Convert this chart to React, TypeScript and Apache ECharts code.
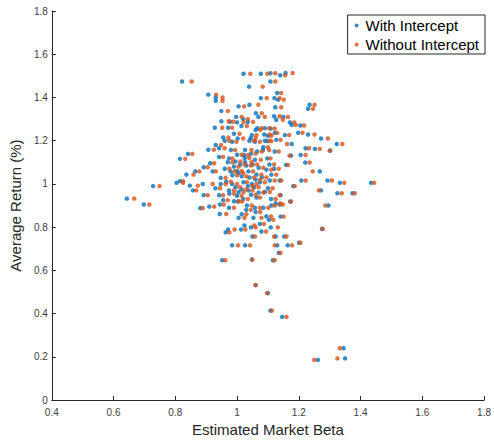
import React, { useEffect, useRef } from "react";
import * as echarts from "echarts";

// Average return (%) for each portfolio
const avgReturn: number[] = [
  1.51, 1.51, 1.512, 1.513, 1.503, 1.474, 1.474, 1.45, 1.421, 1.413, 1.4, 1.385, 1.397, 1.397, 1.39,
  1.366, 1.359, 1.337, 1.355, 1.366, 1.348, 1.327, 1.313, 1.297, 1.31, 1.29, 1.31, 1.31,
  1.288, 1.285, 1.287, 1.285, 1.273, 1.27, 1.26, 1.26, 1.268, 1.258, 1.258, 1.256,
  1.236, 1.226, 1.229, 1.226, 1.237, 1.229, 1.223, 1.232, 1.215, 1.21, 1.212, 1.204, 1.21, 1.185,
  1.185, 1.195, 1.195, 1.18, 1.198, 1.158, 1.165, 1.165, 1.162, 1.154, 1.157, 1.157, 1.157, 1.15,
  1.139, 1.116, 1.134, 1.131, 1.134, 1.125, 1.118, 1.104, 1.101, 1.112, 1.118, 1.096, 1.088, 1.099,
  1.077, 1.058, 1.058, 1.05, 1.058, 1.043, 1.066, 1.043, 1.058, 1.043, 1.058, 1.028,
  1.005, 1.013, 0.992, 1.0, 1.0, 1.0, 1.008, 1.0, 1.008, 1.016, 1.016, 0.99, 1.016, 1.016, 1.005, 1.005, 0.99,
  0.932, 0.97, 0.948, 0.948, 0.97, 0.963, 0.97, 0.937, 0.963, 0.948, 0.97, 0.957, 0.957,
  0.905, 0.888, 0.895, 0.905, 0.89, 0.919, 0.9, 0.89, 0.89, 0.9, 0.905, 0.919, 0.9,
  0.861, 0.843, 0.843, 0.834, 0.849, 0.808, 0.799, 0.815, 0.799, 0.792, 0.789, 0.789, 0.776, 0.78,
  0.757, 0.757, 0.716, 0.716, 0.716, 0.716, 0.728, 0.757, 0.681, 0.647, 0.65, 0.647,
  0.532, 0.495, 0.414, 0.385, 0.24, 0.186, 0.193,
  1.08, 1.09, 1.085, 1.09, 1.075, 1.04, 1.035, 1.03, 1.02, 1.03, 0.985, 0.975, 0.99, 0.985,
  0.955, 0.945, 0.93, 0.95, 0.96, 1.07, 1.01, 1.12, 1.14, 1.15, 1.17, 1.135, 1.1, 1.09, 1.07,
  0.98, 0.93, 0.91, 1.2, 1.25, 1.3, 1.2, 1.2, 0.86, 0.87, 0.85, 0.925, 0.98, 0.92, 0.88, 1.06,
];

// Estimated market beta, regression with intercept
const betaWithIntercept: number[] = [
  1.021, 1.077, 1.108, 1.157, 1.14, 0.822, 1.108, 1.039, 1.13, 0.907, 0.931, 0.931, 1.077, 1.121, 1.133,
  1.04, 1.005, 0.949, 1.124, 1.235, 1.23, 1.061, 1.12, 1.127, 0.997, 0.949, 1.069, 1.15,
  0.977, 1.0, 1.035, 1.171, 1.177, 1.205, 0.928, 0.971, 1.014, 1.066, 1.09, 1.109,
  1.122, 1.048, 1.088, 1.155, 1.198, 1.23, 1.1, 0.99, 0.955, 1.002, 1.044, 1.127, 1.272, 1.323,
  1.177, 1.058, 0.984, 0.931, 1.098, 0.907, 0.942, 1.222, 1.252, 1.302, 0.98, 1.026, 1.084, 1.122,
  0.841, 0.815, 1.206, 1.175, 1.022, 0.942, 0.974, 0.995, 1.026, 1.058, 1.098, 0.913, 1.159, 1.221,
  0.892, 0.865, 0.979, 1.005, 1.037, 1.063, 1.095, 1.111, 1.268, 0.836, 0.921, 0.947,
  0.804, 0.815, 0.847, 0.889, 0.947, 0.984, 1.021, 1.048, 1.074, 1.106, 1.138, 1.182, 1.208, 1.293, 1.333, 1.434, 0.728,
  0.643, 0.857, 0.892, 0.942, 0.974, 1.005, 1.037, 1.063, 1.09, 1.141, 1.272, 1.325, 1.374,
  0.698, 0.881, 0.91, 0.945, 0.974, 1.003, 1.032, 1.058, 1.085, 1.111, 1.138, 1.172, 1.296,
  0.944, 1.005, 1.053, 1.103, 1.141, 1.024, 1.045, 1.074, 1.109, 1.275, 0.971, 1.013, 0.963, 1.079,
  1.05, 1.125, 0.984, 1.026, 1.13, 1.164, 1.201, 1.153, 1.135, 0.952, 1.048, 1.116,
  1.06, 1.1, 1.108, 1.146, 1.345, 1.262, 1.35,
  0.99, 1.01, 1.03, 1.05, 1.07, 0.985, 1.015, 1.04, 1.06, 1.08, 0.995, 1.015, 1.035, 1.055,
  0.975, 1.0, 1.02, 1.045, 1.07, 0.96, 0.965, 1.025, 1.045, 1.065, 1.085, 1.0, 0.97, 1.105, 1.12,
  1.1, 1.11, 1.125, 1.04, 1.06, 1.02, 1.09, 0.96, 1.015, 1.06, 1.095, 0.955, 0.93, 0.99, 1.03, 1.0,
];

// Estimated market beta, regression without intercept
const betaWithoutIntercept: number[] = [
  1.043, 1.098, 1.124, 1.18, 1.156, 0.853, 1.124, 1.083, 1.143, 0.932, 0.953, 0.953, 1.096, 1.138, 1.151,
  1.069, 1.023, 0.97, 1.143, 1.251, 1.246, 1.08, 1.138, 1.148, 1.015, 0.973, 1.09, 1.165,
  0.988, 1.021, 1.052, 1.185, 1.19, 1.217, 0.952, 0.984, 1.032, 1.08, 1.104, 1.122,
  1.13, 1.063, 1.106, 1.169, 1.212, 1.251, 1.111, 1.008, 0.972, 1.02, 1.06, 1.141, 1.294, 1.341,
  1.162, 1.074, 0.998, 0.948, 1.111, 0.925, 0.96, 1.233, 1.268, 1.3, 0.994, 1.047, 1.104, 1.135,
  0.855, 0.832, 1.222, 1.17, 1.036, 0.955, 0.985, 1.011, 1.047, 1.077, 1.108, 0.926, 1.165, 1.235,
  0.905, 0.878, 0.992, 1.02, 1.052, 1.079, 1.111, 1.127, 1.245, 0.859, 0.931, 0.963,
  0.825, 0.825, 0.873, 0.921, 0.963, 1.0, 1.032, 1.063, 1.09, 1.122, 1.143, 1.187, 1.222, 1.307, 1.347, 1.444, 0.749,
  0.667, 0.868, 0.905, 0.955, 0.99, 1.021, 1.05, 1.074, 1.106, 1.138, 1.265, 1.339, 1.381,
  0.716, 0.889, 0.926, 0.957, 0.99, 1.016, 1.048, 1.074, 1.101, 1.122, 1.148, 1.175, 1.286,
  0.965, 1.024, 1.079, 1.117, 1.151, 1.056, 1.06, 1.087, 1.132, 1.278, 0.992, 1.027, 0.975, 1.094,
  1.058, 1.12, 1.003, 1.042, 1.122, 1.178, 1.205, 1.16, 1.141, 0.962, 1.05, 1.122,
  1.06, 1.097, 1.113, 1.16, 1.333, 1.25, 1.325,
  1.005, 1.025, 1.045, 1.065, 1.085, 1.0, 1.03, 1.055, 1.075, 1.095, 1.01, 1.03, 1.05, 1.07,
  0.99, 1.015, 1.035, 1.06, 1.085, 0.975, 0.98, 1.04, 1.06, 1.08, 1.1, 1.015, 0.985, 1.12, 1.135,
  1.115, 1.125, 1.14, 1.055, 1.075, 1.035, 1.105, 0.975, 1.03, 1.075, 1.11, 0.97, 0.945, 1.005, 1.045, 1.015,
];

const seriesNames = ["With Intercept", "Without Intercept"];
const xTicks = { min: 0.4, max: 1.8, interval: 0.2 };
const yTicks = { min: 0, max: 1.8, interval: 0.2 };

const FONT = "'Liberation Sans', Arial, Helvetica, sans-serif";

export default function App() {
  const ref = useRef<HTMLDivElement>(null);

  useEffect(() => {
    document.body.style.margin = "0";
    if (!ref.current) return;
    const chart = echarts.init(ref.current, undefined, { renderer: "svg" });

    const withData = avgReturn.map((y, i) => [betaWithIntercept[i], y]);
    const withoutData = avgReturn.map((y, i) => [betaWithoutIntercept[i], y]);

    const axisCommon = {
      axisLine: { show: true, lineStyle: { color: "#262626", width: 1 } },
      axisTick: { show: true, inside: true, length: 4, lineStyle: { color: "#262626" } },
      splitLine: { show: false },
      nameLocation: "middle" as const,
      nameTextStyle: { fontSize: 15, color: "#262626", fontFamily: FONT },
    };

    chart.setOption({
      animation: false,
      backgroundColor: "#ffffff",
      textStyle: { fontFamily: FONT },
      grid: { left: 49, right: 4, top: 11, bottom: 37, containLabel: false },
      legend: {
        data: seriesNames,
        orient: "vertical",
        right: 9,
        top: 15,
        padding: [3, 6, 2, 7],
        itemGap: 4,
        itemWidth: 8,
        itemHeight: 4,
        icon: "circle",
        borderColor: "#262626",
        borderWidth: 1,
        backgroundColor: "#ffffff",
        textStyle: { fontSize: 15, color: "#000000", fontFamily: FONT, lineHeight: 15 },
      },
      xAxis: {
        type: "value",
        ...xTicks,
        name: "Estimated Market Beta",
        nameGap: 18,
        ...axisCommon,
        axisLabel: { fontSize: 10, color: "#404040", margin: 7, fontFamily: FONT },
      },
      yAxis: {
        type: "value",
        ...yTicks,
        name: "Average Return (%)",
        nameGap: 19,
        ...axisCommon,
        axisLabel: { fontSize: 10, color: "#404040", margin: 4, fontFamily: FONT },
      },
      series: [
        {
          name: seriesNames[0],
          type: "scatter",
          data: withData,
          symbol: "circle",
          symbolSize: 4.5,
          itemStyle: { color: "#0072BD" },
        },
        {
          name: seriesNames[1],
          type: "scatter",
          data: withoutData,
          symbol: "circle",
          symbolSize: 4.5,
          itemStyle: { color: "#D95319" },
        },
      ],
    });

    return () => chart.dispose();
  }, []);

  return <div ref={ref} style={{ width: 494, height: 442 }} />;
}
